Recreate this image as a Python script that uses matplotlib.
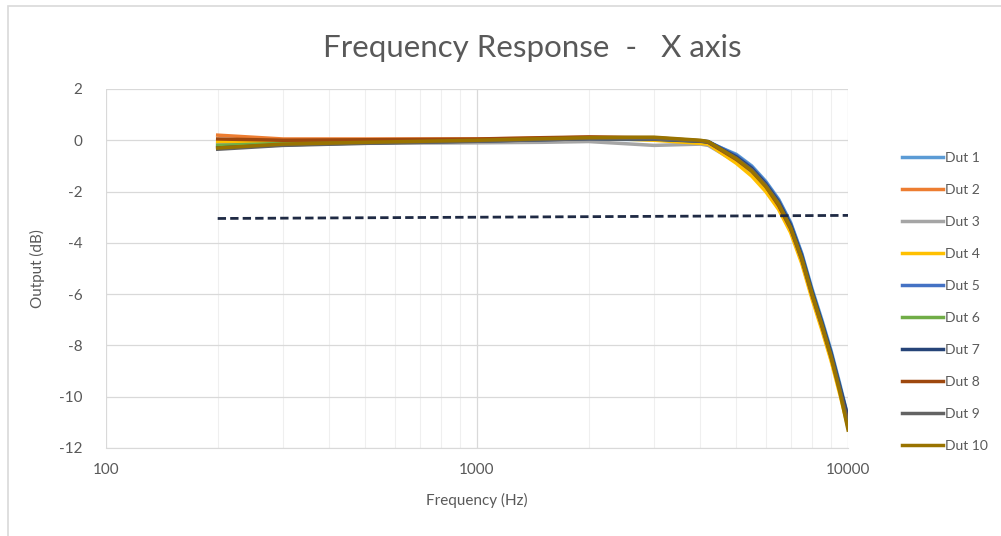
import matplotlib
matplotlib.use('Agg')
import matplotlib.pyplot as plt
from matplotlib.patches import Rectangle
from matplotlib.ticker import FixedLocator, NullFormatter

plt.rcParams['font.family'] = ['Lato', 'DejaVu Sans']
plt.rcParams['axes.unicode_minus'] = False

# Frequency points (Hz)
freq = [200, 300, 500, 1000, 1500, 2000, 3000, 4000, 4200, 5000,
        5500, 6000, 6500, 7000, 7500, 8000, 8500, 9000, 9500, 10000]

# Output (dB) for each DUT
dut1 = [-0.15, -0.12, -0.08, -0.02, 0.02, 0.05, 0.02, -0.05, -0.08, -0.55,
        -1.0, -1.6, -2.3, -3.2, -4.4, -5.8, -7.0, -8.2, -9.5, -10.8]
dut2 = [0.2, 0.05, 0.05, 0.05, 0.08, 0.12, 0.08, -0.05, -0.1, -0.8,
        -1.25, -1.9, -2.6, -3.5, -4.7, -6.1, -7.3, -8.5, -9.8, -11.1]
dut3 = [-0.1, -0.15, -0.12, -0.1, -0.08, -0.05, -0.2, -0.15, -0.2, -0.85,
        -1.3, -1.9, -2.6, -3.4, -4.6, -6.0, -7.2, -8.4, -9.7, -11.0]
dut4 = [-0.05, -0.05, 0.0, 0.02, 0.08, 0.1, 0.0, -0.12, -0.15, -0.9,
        -1.4, -2.0, -2.7, -3.6, -4.8, -6.2, -7.4, -8.6, -9.9, -11.2]
dut5 = [-0.25, -0.15, -0.1, -0.03, 0.03, 0.07, 0.05, -0.02, -0.05, -0.6,
        -1.05, -1.65, -2.35, -3.25, -4.45, -5.9, -7.1, -8.3, -9.6, -10.9]
dut6 = [-0.2, -0.12, -0.06, 0.0, 0.05, 0.08, 0.06, -0.03, -0.08, -0.7,
        -1.15, -1.75, -2.45, -3.35, -4.55, -5.95, -7.15, -8.35, -9.65, -10.9]
dut7 = [-0.3, -0.18, -0.1, -0.03, 0.02, 0.06, 0.04, -0.04, -0.06, -0.65,
        -1.1, -1.7, -2.4, -3.3, -4.5, -5.9, -7.1, -8.3, -9.6, -10.8]
dut8 = [0.05, 0.0, 0.02, 0.05, 0.1, 0.13, 0.1, -0.02, -0.08, -0.75,
        -1.2, -1.8, -2.55, -3.45, -4.65, -6.05, -7.25, -8.45, -9.75, -11.0]
dut9 = [-0.35, -0.2, -0.12, -0.04, 0.02, 0.06, 0.05, -0.03, -0.06, -0.7,
        -1.15, -1.75, -2.45, -3.4, -4.6, -6.0, -7.2, -8.4, -9.7, -11.1]
dut10 = [-0.3, -0.15, -0.08, 0.0, 0.06, 0.1, 0.12, 0.0, -0.05, -0.72,
         -1.2, -1.8, -2.5, -3.4, -4.6, -6.0, -7.2, -8.45, -9.8, -11.3]

labels = ['Dut 1', 'Dut 2', 'Dut 3', 'Dut 4', 'Dut 5',
          'Dut 6', 'Dut 7', 'Dut 8', 'Dut 9', 'Dut 10']
series = [dut1, dut2, dut3, dut4, dut5, dut6, dut7, dut8, dut9, dut10]
colors = ['#5B9BD5', '#ED7D31', '#A5A5A5', '#FFC000', '#4472C4',
          '#70AD47', '#264478', '#9E480E', '#636363', '#997300']

# -3 dB reference line
ref_freq = [200, 10000]
ref_db = [-3.05, -2.93]

fig = plt.figure(figsize=(10.01, 5.36), dpi=100)
ax = fig.add_axes([0.1059, 0.1642, 0.7413, 0.6698])

# chart border
fig.patches.append(Rectangle((8 / 1001, -0.05), 1.2, 1 - 6 / 536 + 0.05,
                             transform=fig.transFigure, fill=False,
                             edgecolor='#D9D9D9', linewidth=1.2))

for y, lab, c in zip(series, labels, colors):
    ax.plot(freq, y, color=c, linewidth=2.5, label=lab)

ax.plot(ref_freq, ref_db, color='#1F2A44', linewidth=2, linestyle=(0, (3, 1.5)))

ax.set_xscale('log')
ax.set_xlim(100, 10000)
ax.set_ylim(-12, 2)
ax.set_yticks(range(-12, 3, 2))
ax.xaxis.set_major_locator(FixedLocator([100, 1000, 10000]))
ax.set_xticklabels(['100', '1000', '10000'])
ax.xaxis.set_minor_locator(FixedLocator([k * 10 ** e for e in (2, 3) for k in range(2, 10)]))
ax.xaxis.set_minor_formatter(NullFormatter())

ax.grid(True, which='major', color='#D9D9D9', linewidth=0.9)
ax.grid(True, which='minor', axis='x', color='#EFEFEF', linewidth=0.8)
ax.set_axisbelow(True)
for s in ['top', 'right', 'left']:
    ax.spines[s].set_visible(False)
ax.spines['bottom'].set_color('#D9D9D9')
ax.tick_params(which='both', length=0, labelsize=11, colors='#595959')
ax.tick_params(axis='y', pad=17)
ax.tick_params(axis='x', pad=11)

ax.set_xlabel('Frequency (Hz)', fontsize=11, color='#595959', labelpad=11)
ax.set_ylabel('Output (dB)', fontsize=11, color='#595959', labelpad=10)

fig.text(0.532, 0.911, 'Frequency Response  -   X axis', ha='center', va='center',
         fontsize=22.5, color='#595959')

ax.legend(loc='upper left', bbox_to_anchor=(0.889, 0.740), bbox_transform=fig.transFigure,
          frameon=False, fontsize=10, labelspacing=1.44, handlelength=2.9,
          handletextpad=0.2, labelcolor='#595959')

fig.savefig('out.png', dpi=100)
